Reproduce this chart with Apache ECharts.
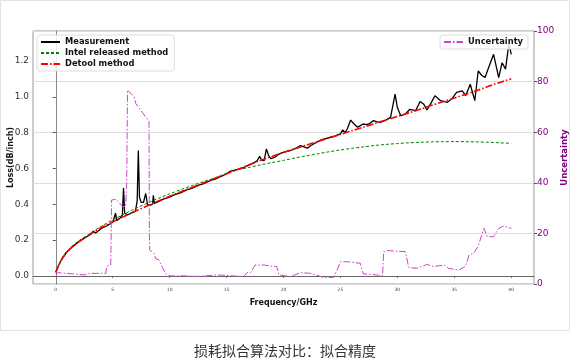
<!DOCTYPE html>
<html><head><meta charset="utf-8">
<script src="https://cdn.jsdelivr.net/npm/echarts@6/dist/echarts.min.js"></script>
<style>html,body{margin:0;padding:0;background:#fff}#c{width:570px;height:364px}</style>
</head><body><div id="c"></div>
<script>
// Frequency (GHz) ticks
var xTicks = [0,5,10,15,20,25,30,35,40];
var lossTicks = [0,0.2,0.4,0.6,0.8,1.0,1.2];
// Measurement: [GHz, dB/inch]
var measurement = [
[0,0.02],[0.25,0.06],[0.5,0.09],[1,0.135],[1.5,0.165],[2,0.19],[2.5,0.21],[3,0.23],[3.3,0.25],[3.5,0.24],
[4,0.265],[4.5,0.28],[5,0.30],[5.15,0.31],[5.25,0.35],[5.35,0.31],[5.6,0.32],[5.85,0.34],[5.95,0.49],[6.05,0.35],
[6.3,0.34],[6.6,0.35],[7.0,0.36],[7.15,0.42],[7.25,0.70],[7.35,0.44],[7.5,0.41],[7.7,0.41],[7.9,0.46],[8.05,0.40],
[8.3,0.395],[8.5,0.40],[8.57,0.45],[8.65,0.405],[9,0.415],[9.5,0.43],[10,0.44],[10.5,0.455],[11,0.465],[11.5,0.48],
[12,0.49],[12.5,0.505],[13,0.515],[13.6,0.533],[14,0.54],[14.5,0.555],[15,0.57],[15.35,0.585],[15.7,0.59],[16,0.595],
[16.5,0.605],[17,0.62],[17.5,0.635],[17.7,0.644],[17.9,0.667],[18.1,0.645],[18.3,0.644],[18.5,0.709],[18.7,0.67],[18.9,0.654],
[19.3,0.665],[19.6,0.68],[20,0.69],[20.3,0.695],[20.6,0.70],[21,0.71],[21.5,0.728],[21.8,0.72],[22.1,0.713],[22.4,0.728],
[22.8,0.742],[23.2,0.756],[23.6,0.765],[24.1,0.774],[24.5,0.78],[25.0,0.793],[25.2,0.815],[25.4,0.80],[25.6,0.82],[25.9,0.87],
[26.2,0.848],[26.5,0.83],[26.75,0.839],[27.0,0.848],[27.3,0.845],[27.6,0.852],[27.9,0.867],[28.2,0.86],[28.5,0.857],[29.0,0.87],
[29.4,0.885],[29.8,1.015],[30.0,0.94],[30.3,0.894],[30.7,0.904],[31.1,0.93],[31.6,0.922],[32.0,0.974],[32.3,0.96],[32.6,0.926],
[33.0,0.97],[33.3,1.006],[33.8,0.978],[34.4,0.969],[34.8,0.99],[35.2,1.024],[35.7,1.033],[36.0,1.006],[36.4,1.07],[36.8,0.978],
[37.1,1.144],[37.4,1.12],[37.7,1.107],[38.0,1.16],[38.45,1.237],[38.9,1.107],[39.2,1.19],[39.5,1.154],[39.8,1.30],[40.0,1.237]
];
// Intel released method
var intelMethod = [
[0,0.02],[0.5,0.095],[1,0.14],[2,0.195],[3,0.237],[4,0.277],[5,0.313],[6,0.345],[7,0.377],[8,0.405],[9,0.433],[10,0.458],
[11,0.482],[12,0.505],[13,0.527],[14,0.548],[15,0.572],[16,0.592],[17,0.606],[18,0.62],[19,0.633],[20,0.645],
[21,0.658],[22,0.67],[23,0.682],[24,0.693],[25,0.703],[26,0.712],[27,0.72],[28,0.728],[29,0.734],[30,0.739],
[31,0.743],[32,0.746],[33,0.748],[34,0.749],[35,0.75],[36,0.749],[37,0.748],[38,0.746],[39,0.743],[40,0.74]
];
// Detool method
var detoolMethod = [
[0,0.02],[0.5,0.09],[1,0.135],[1.5,0.165],[2,0.19],[3,0.23],[4,0.27],[5,0.302],[6,0.332],[7,0.362],[8,0.39],[9,0.418],
[10,0.445],[11,0.47],[12,0.495],[13,0.52],[14,0.545],[15,0.57],[16,0.595],[17,0.62],[18,0.645],[19,0.667],[20,0.69],
[21,0.71],[22,0.73],[23,0.75],[24,0.77],[25,0.79],[26,0.81],[27,0.83],[28,0.85],[29,0.87],[30,0.89],[31,0.91],
[32,0.93],[33,0.952],[34,0.972],[35,0.993],[36,1.014],[37,1.035],[38,1.058],[39,1.08],[40,1.10]
];
// Uncertainty (%)
var uncertainty = [
[0,3.5],[0.2,4.5],[1.5,4.0],[2.5,3.6],[3.0,4.2],[4.4,4.2],[4.47,6.9],[4.83,7.5],[4.9,33.2],[5.26,33.5],[5.6,32.0],
[5.85,30.6],[6.14,30.6],[6.23,40],[6.3,76.7],[6.4,76.7],[6.87,74],[7.02,71.4],[8.19,64.2],[8.22,20],[8.25,13.4],
[8.63,12.1],[8.77,10.0],[9.06,9.5],[9.36,6.6],[9.5,6.4],[9.65,4.2],[9.8,3.2],[11.25,3.2],[12.5,3.0],[14.2,3.6],
[16.5,2.9],[16.8,4.5],[17.1,4.5],[17.5,7.5],[18.3,7.5],[18.9,7.1],[19.4,6.9],[19.6,3.6],[20.6,2.9],[21.5,4.5],
[22.4,4.2],[23.1,3.2],[23.5,2.6],[24.4,2.6],[24.7,5.5],[25.0,8.8],[25.6,8.8],[26.75,8.2],[27.0,4.0],[28.2,3.6],
[28.7,3.2],[28.8,12.8],[29.1,13.2],[30.7,12.8],[31.0,6.5],[31.7,6.2],[32.6,7.7],[33.2,6.9],[34.1,7.5],[34.5,6.2],
[35.4,5.5],[36.0,7.1],[36.3,11.5],[36.7,12.1],[37.1,15.0],[37.6,22.0],[37.9,18.7],[38.45,18.7],[38.9,22.0],[39.3,22.9],[40.0,22.0]
];

var chart = echarts.init(document.getElementById('c'), null, {renderer:'canvas'});
var dashDot = [7,2,1.5,2];
var font = 'DejaVu Sans';
var legendCommon = {orient:'vertical',itemWidth:19,itemHeight:9,
  backgroundColor:'rgba(255,255,255,0.85)',borderColor:'#ddd',borderWidth:1,borderRadius:3,
  itemStyle:{opacity:0},
  textStyle:{fontFamily:font,fontSize:8.3,fontWeight:'bold',color:'#111'}};
chart.setOption({
  animation:false,
  backgroundColor:'#fff',
  textStyle:{fontFamily:font},
  grid:{left:33,right:36,top:31,bottom:80,containLabel:false,outerBoundsMode:'none',
    show:true,borderColor:'#999',borderWidth:1,backgroundColor:'transparent'},
  legend:[
    Object.assign({data:['Measurement','Intel released method','Detool method'],left:37,top:35,
      padding:[3,6,3,3],itemGap:3}, legendCommon),
    Object.assign({data:['Uncertainty'],right:42,top:35,padding:[3,5,3,3]}, legendCommon)
  ],
  xAxis:{type:'value',min:-2,max:42,
    name:'Frequency/GHz',nameLocation:'middle',nameGap:15,nameMoveOverlap:false,
    nameTextStyle:{fontFamily:font,fontSize:8,fontWeight:'bold',color:'#111'},
    axisLine:{show:true,lineStyle:{color:'#666',width:1}},
    axisTick:{show:true,length:2,customValues:xTicks,lineStyle:{color:'#666'}},
    axisLabel:{customValues:xTicks,fontSize:4.5,color:'#444',margin:3},
    splitLine:{show:false}},
  yAxis:[
    {type:'value',min:-0.045,max:1.367,position:'left',
     name:'Loss(dB/inch)',nameLocation:'middle',nameGap:18,nameRotate:90,nameMoveOverlap:false,
     nameTextStyle:{fontFamily:font,fontSize:8,fontWeight:'bold',color:'#111'},
     axisLine:{show:true,lineStyle:{color:'#888',width:1}},
     axisTick:{show:true,length:3,customValues:lossTicks,lineStyle:{color:'#555'}},
     axisLabel:{customValues:lossTicks,fontSize:9,color:'#333',margin:4,
       formatter:function(v){return v.toFixed(1);}},
     splitLine:{show:false}},
    {type:'value',min:0,max:100,interval:20,position:'right',
     name:'Uncertainty',nameLocation:'middle',nameGap:26,nameRotate:90,nameMoveOverlap:false,
     nameTextStyle:{fontFamily:font,fontSize:8.5,fontWeight:'bold',color:'#800080'},
     axisLine:{show:true,lineStyle:{color:'#ccc',width:2}},
     axisTick:{show:true,length:3,lineStyle:{color:'#555'}},
     axisLabel:{fontSize:9,color:'#800080',margin:3},
     splitLine:{show:true,lineStyle:{color:'#ddd',width:1}}}
  ],
  series:[
    {name:'Measurement',type:'line',data:measurement,symbol:'none',yAxisIndex:0,
     lineStyle:{color:'#000',width:1.3},itemStyle:{color:'#000'},z:2},
    {name:'Intel released method',type:'line',data:intelMethod,symbol:'none',smooth:0.3,yAxisIndex:0,
     lineStyle:{color:'#008000',width:1,type:[3,2]},itemStyle:{color:'#008000'},z:3},
    {name:'Detool method',type:'line',data:detoolMethod,symbol:'none',smooth:0.3,yAxisIndex:0,
     lineStyle:{color:'#ff0000',width:1.6,type:dashDot},itemStyle:{color:'#ff0000'},z:4},
    {name:'Uncertainty',type:'line',data:uncertainty,symbol:'none',yAxisIndex:1,
     lineStyle:{color:'#cc44cc',width:1,type:dashDot},itemStyle:{color:'#cc44cc'},z:5}
  ],
  graphic:[
    {type:'rect',shape:{x:0.5,y:0.5,width:569,height:330},style:{fill:'none',stroke:'#e3e3e3',lineWidth:1},silent:true,z:-10},
    {type:'text',x:285,y:351,style:{text:'损耗拟合算法对比：拟合精度',font:'14px "Noto Sans CJK SC"',fill:'#333',textAlign:'center',textVerticalAlign:'middle'}}
  ]
});
</script></body></html>
